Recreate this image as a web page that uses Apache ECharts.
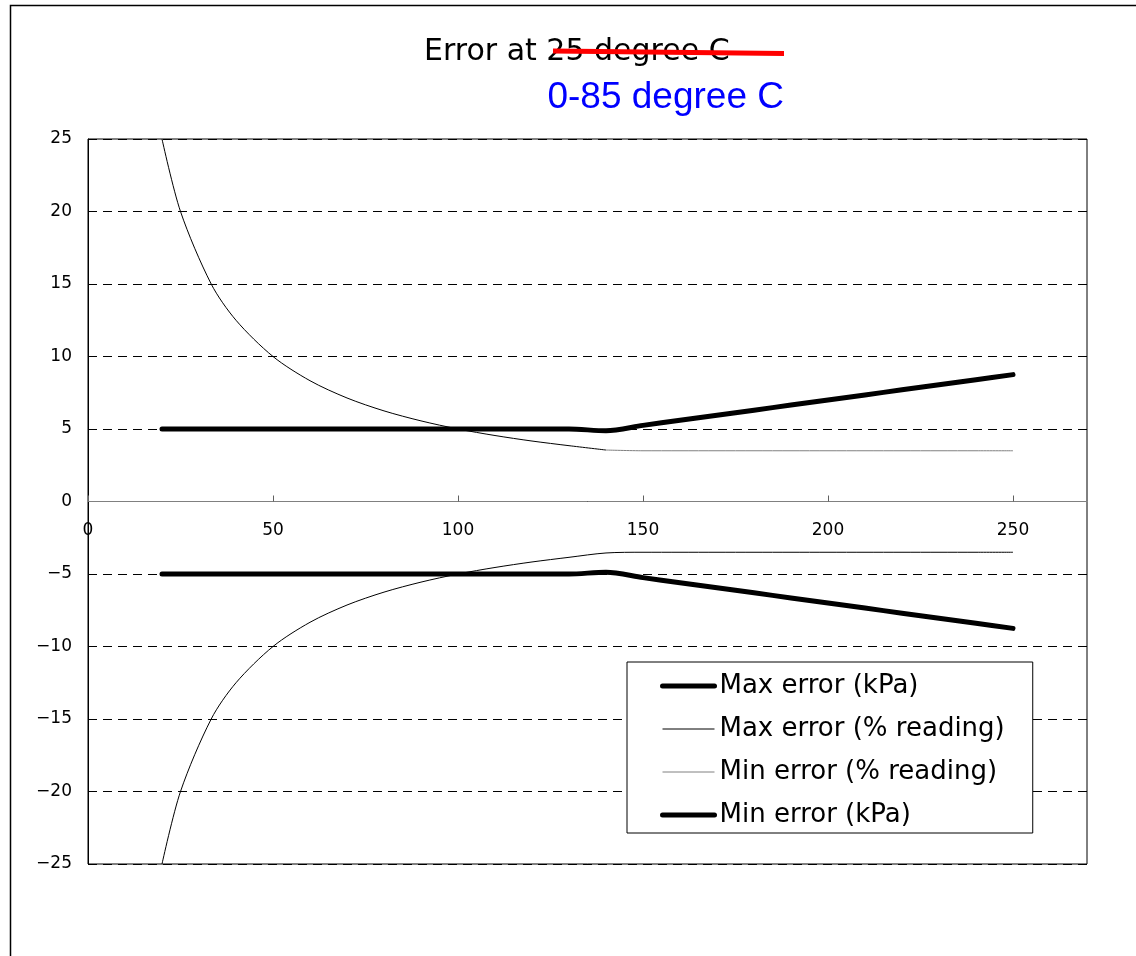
<!DOCTYPE html>
<html><head><meta charset="utf-8">
<script src="https://cdn.jsdelivr.net/npm/echarts@6/dist/echarts.min.js"></script>
<style>html,body{margin:0;padding:0;background:#fff}#c{width:1136px;height:956px}</style>
</head><body><div id="c"></div>
<script>
// Pressure (kPa) on the x axis
const pressureKpa = [20,30,40,50,60,70,80,90,100,110,120,130,140,150,160,170,180,190,200,210,220,230,240,250];
const maxErrKpa   = [5,5,5,5,5,5,5,5,5,5,5,5,4.88,5.25,5.6,5.95,6.3,6.65,7.0,7.35,7.7,8.05,8.4,8.75];
const minErrKpa   = [-5,-5,-5,-5,-5,-5,-5,-5,-5,-5,-5,-5,-4.88,-5.25,-5.6,-5.95,-6.3,-6.65,-7.0,-7.35,-7.7,-8.05,-8.4,-8.75];

const pctPressure = [20,25,33.3,40,50,60,70,80,90,100,110,120,130,140,150,160,170,180,190,200,210,220,230,240,250];
const maxErrPct   = [25,20,15,12.5,10,8.33,7.14,6.25,5.56,5.0,4.55,4.17,3.85,3.55,3.5,3.5,3.5,3.5,3.5,3.5,3.5,3.5,3.5,3.5,3.5];
const minErrPct   = [-25,-20,-15,-12.5,-10,-8.33,-7.14,-6.25,-5.56,-5.0,-4.55,-4.17,-3.85,-3.55,-3.5,-3.5,-3.5,-3.5,-3.5,-3.5,-3.5,-3.5,-3.5,-3.5,-3.5];

const seriesNames = ['Max error (kPa)','Max error (% reading)','Min error (% reading)','Min error (kPa)'];
const titleText = 'Error at 25 degree C';
const subtitleText = '0-85 degree C';

const FONT = '"DejaVu Sans", "Noto Sans", sans-serif';
const zip = (xs, ys) => xs.map((x, i) => [x, ys[i]]);
const kneeIdx = pctPressure.indexOf(140);

const gridTop = 139, gridH = 725;

const chart = echarts.init(document.getElementById('c'));
chart.setOption({
  backgroundColor: '#fff',
  animation: false,
  grid: { left: 88, top: gridTop, width: 999, height: gridH, show: true, borderColor: '#000', borderWidth: 1, backgroundColor: 'transparent' },
  xAxis: {
    type: 'value', min: 0, max: 270, interval: 50,
    position: 'bottom', offset: -gridH / 2,
    axisLine: { onZero: false, lineStyle: { color: '#808080', width: 1 } },
    axisTick: { show: true, inside: true, length: 6, lineStyle: { color: '#606060' } },
    axisLabel: { fontSize: 17, color: '#000', fontFamily: FONT, margin: 21, showMaxLabel: false,
      formatter: v => (v === 270 ? '' : String(v)) },
    splitLine: { show: false }
  },
  yAxis: {
    type: 'value', min: -25, max: 25, interval: 5,
    axisLine: { show: true, onZero: false, lineStyle: { color: '#000', width: 1 } },
    axisTick: { show: false },
    axisLabel: { fontSize: 17, color: '#000', fontFamily: FONT, margin: 16,
      formatter: v => (v < 0 ? '\u2212' + Math.abs(v) : String(v)) },
    splitLine: { show: true, lineStyle: { color: '#000', width: 1, type: [9, 6] } }
  },
  legend: {
    orient: 'vertical', left: 627, top: 662,
    itemWidth: 52, itemHeight: 26, itemGap: 17,
    padding: [11, 28, 5, 33],
    borderColor: '#000', borderWidth: 1, backgroundColor: '#fff',
    itemStyle: { opacity: 0 },
    textStyle: { fontSize: 26, fontFamily: FONT, color: '#000' },
    data: [
      { name: seriesNames[0], lineStyle: { width: 5, color: '#000' } },
      { name: seriesNames[1], lineStyle: { width: 1, color: '#000' } },
      { name: seriesNames[2], lineStyle: { width: 1, color: '#808080' } },
      { name: seriesNames[3], lineStyle: { width: 5, color: '#000' } }
    ]
  },
  series: [
    { name: seriesNames[1], type: 'line', data: zip(pctPressure, maxErrPct).slice(0, kneeIdx + 1), symbol: 'none', smooth: 0.3,
      lineStyle: { color: '#000', width: 1 }, itemStyle: { color: '#000' }, z: 2 },
    { name: seriesNames[1], type: 'line', data: zip(pctPressure, maxErrPct).slice(kneeIdx), symbol: 'none', smooth: 0.3,
      lineStyle: { color: '#808080', width: 1 }, itemStyle: { color: '#808080' }, z: 2 },
    { name: seriesNames[2], type: 'line', data: zip(pctPressure, minErrPct), symbol: 'none', smooth: 0.3,
      lineStyle: { color: '#000', width: 1 }, itemStyle: { color: '#000' }, z: 2 },
    { name: seriesNames[0], type: 'line', data: zip(pressureKpa, maxErrKpa), symbol: 'none', smooth: 0.3,
      lineStyle: { color: '#000', width: 5, cap: 'round', join: 'round' }, itemStyle: { color: '#000' }, z: 3 },
    { name: seriesNames[3], type: 'line', data: zip(pressureKpa, minErrKpa), symbol: 'none', smooth: 0.3,
      lineStyle: { color: '#000', width: 5, cap: 'round', join: 'round' }, itemStyle: { color: '#000' }, z: 3 }
  ],
  graphic: [
    { type: 'rect', silent: true, shape: { x: 10.5, y: 5.5, width: 1200, height: 1000 },
      style: { fill: 'none', stroke: '#000', lineWidth: 1.5 }, z: -10 },
    { type: 'text', x: 424, y: 52, silent: true,
      style: { text: titleText, font: '30px ' + FONT, fill: '#000', align: 'left', verticalAlign: 'middle' }, z: 10 },
    { type: 'line', silent: true, shape: { x1: 553, y1: 51, x2: 784, y2: 53.5 },
      style: { stroke: '#ff0000', lineWidth: 5 }, z: 11 },
    { type: 'text', x: 784, y: 98, silent: true,
      style: { text: subtitleText, font: '37px "Liberation Sans", Arial, sans-serif', fill: '#0000ff', align: 'right', verticalAlign: 'middle' }, z: 10 }
  ]
});
</script></body></html>
